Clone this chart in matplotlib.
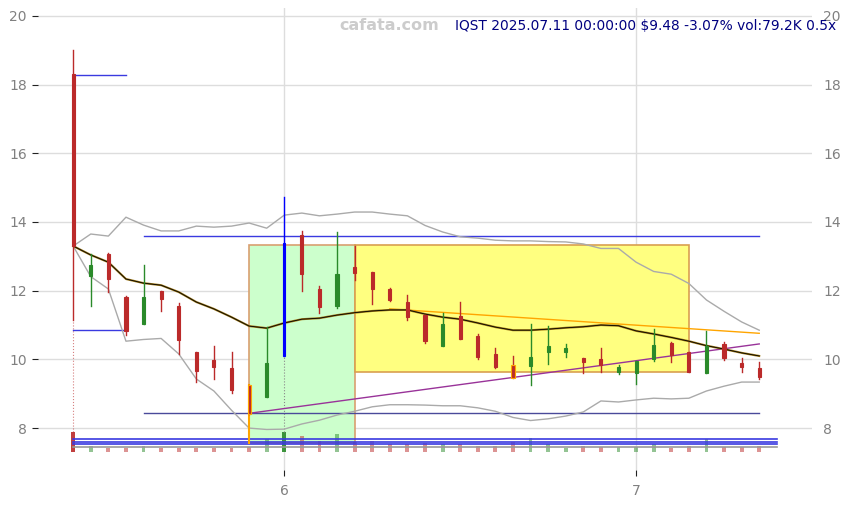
import matplotlib
matplotlib.use("Agg")
import matplotlib.pyplot as plt
from matplotlib.patches import Rectangle

# Kursdaten IQST (Tageskerzen, 14.05.2025 - 11.07.2025)
opens = [18.3, 12.43, 13.07, 11.82, 11.03, 11.99, 11.55, 10.21, 9.98, 9.75,
         9.25, 8.91, 10.1, 13.62, 12.06, 11.55, 12.69, 12.54, 12.05, 11.67,
         11.29, 10.39, 11.26, 10.68, 10.16, 9.83, 9.81, 10.22, 10.22, 10.04,
         10.01, 9.62, 9.59, 10.0, 10.48, 10.21, 9.59, 10.45, 9.89, 9.75]
highs = [19.0, 13.07, 13.1, 11.85, 12.75, 12.0, 11.64, 10.22, 10.39, 10.21,
         9.25, 10.93, 14.73, 13.75, 12.14, 13.71, 13.31, 12.54, 12.07, 11.87,
         11.3, 11.34, 11.68, 10.74, 10.34, 10.1, 11.03, 10.97, 10.45, 10.04,
         10.34, 9.83, 9.96, 10.88, 10.5, 10.22, 10.83, 10.5, 10.03, 9.92]
lows = [11.15, 11.55, 11.96, 10.71, 11.03, 11.41, 10.16, 9.34, 9.43, 9.02,
        8.41, 8.91, 10.1, 11.99, 11.36, 11.51, 12.31, 11.62, 11.7, 11.15,
        10.47, 10.39, 10.6, 10.01, 9.75, 9.45, 9.25, 9.86, 10.07, 9.59,
        9.63, 9.57, 9.28, 9.96, 9.93, 9.62, 9.59, 9.98, 9.64, 9.44]
closes = [13.3, 12.75, 12.34, 10.82, 11.82, 11.76, 10.56, 9.66, 9.78, 9.11,
          8.41, 9.90, 13.39, 12.49, 11.52, 12.49, 12.52, 12.06, 11.73, 11.23,
          10.53, 11.03, 10.6, 10.06, 9.79, 9.45, 10.07, 10.39, 10.34, 9.93,
          9.83, 9.79, 9.96, 10.42, 10.12, 9.62, 10.39, 10.04, 9.79, 9.48]
# Volumen in Tausend
volumen = [264, 79, 57, 57, 79, 57, 57, 57, 57, 57,
           70, 168, 264, 211, 145, 238, 132, 145, 102, 102,
           123, 102, 102, 79, 79, 128, 189, 110, 57, 79,
           66, 66, 66, 102, 57, 79, 168, 70, 70, 79.2]

# Gleitender Durchschnitt und Baender
ma = [13.3, 13.04, 12.83, 12.34, 12.22, 12.16, 11.96, 11.67, 11.47, 11.23,
      10.97, 10.91, 11.06, 11.17, 11.2, 11.29, 11.36, 11.41, 11.44, 11.44,
      11.32, 11.23, 11.17, 11.06, 10.94, 10.85, 10.85, 10.88, 10.92, 10.95,
      11.0, 10.98, 10.83, 10.74, 10.64, 10.53, 10.4, 10.3, 10.19, 10.1]
band_oben = [13.3, 13.65, 13.59, 14.14, 13.91, 13.74, 13.74, 13.88, 13.85, 13.88,
             13.97, 13.82, 14.2, 14.26, 14.18, 14.23, 14.29, 14.29, 14.23, 14.18,
             13.9, 13.71, 13.57, 13.53, 13.47, 13.45, 13.45, 13.43, 13.42, 13.36,
             13.23, 13.23, 12.83, 12.56, 12.48, 12.21, 11.73, 11.4, 11.09, 10.85]
band_unten = [13.3, 12.41, 12.05, 10.53, 10.58, 10.61, 10.16, 9.43, 9.08, 8.52,
              8.0, 7.96, 7.97, 8.12, 8.23, 8.38, 8.49, 8.62, 8.68, 8.68,
              8.67, 8.65, 8.65, 8.59, 8.49, 8.31, 8.22, 8.27, 8.35, 8.47,
              8.79, 8.76, 8.82, 8.87, 8.85, 8.87, 9.08, 9.22, 9.34, 9.34]

# Monatsticks (Juni, Juli)
tick_pos = [12, 32]
tick_labels = ["6", "7"]

# Volumen-Niveaus (Tausend)
vol_linien = [167.6, 128, 101.6]
vol_grau = 62

rot = '#bb2a2a'
gruen = '#2a8a2a'
blau = '#3a3ae0'

fig = plt.figure(figsize=(8.49, 5.05), dpi=100)
ax = fig.add_axes([38 / 849, 1 - 470 / 505, 774 / 849, 462 / 505])

n = len(closes)
x = list(range(n))

# Volumen unten einzeichnen
vol_basis = 7.30
vol_faktor = 0.00221
for i in x:
    farbe = rot if closes[i] < opens[i] else gruen
    alpha = 0.9 if volumen[i] > 250 else 0.5
    ax.bar(i, volumen[i] * vol_faktor, bottom=vol_basis, width=0.22,
           color=farbe, alpha=alpha, zorder=2)
for v in vol_linien:
    ax.plot([0, 40], [vol_basis + v * vol_faktor] * 2, color=blau, lw=1.2, zorder=3)
ax.plot([0, 40], [vol_basis + vol_grau * vol_faktor] * 2, color='#999999', lw=1.2, zorder=3)

# Rechtecke
ax.add_patch(Rectangle((10, 7.56), 6, 13.33 - 7.56, facecolor='#ccffcc',
                       edgecolor='#d9a070', lw=1.2, zorder=1))
ax.add_patch(Rectangle((16, 9.63), 19, 13.33 - 9.63, facecolor='#ffff80',
                       edgecolor='#d9a050', lw=1.2, zorder=1))
ax.plot([10, 10], [7.56, 9.25], color='orange', lw=1.5, zorder=4)

# horizontale Linien
ax.plot([0, 3], [18.27, 18.27], color=blau, lw=1, zorder=3)
ax.plot([0, 3], [10.85, 10.85], color=blau, lw=1, zorder=3)
ax.plot([4, 39], [13.59, 13.59], color=blau, lw=1, zorder=3)
ax.plot([4, 39], [8.43, 8.43], color='#4a4a9a', lw=1, zorder=3)

# Trendlinien
ax.plot([18, 39], [11.47, 10.76], color='orange', lw=1, zorder=4)
ax.plot([10, 39], [8.43, 10.45], color='#993399', lw=1, zorder=4)

# Baender und Durchschnitt
ax.plot(x, band_oben, color='#aaaaaa', lw=1, zorder=3)
ax.plot(x, band_unten, color='#aaaaaa', lw=1, zorder=3)
ax.plot(x, ma, color='#a07a18', lw=1.5, zorder=4)
ax.plot(x, ma, color='black', lw=0.6, zorder=5)

# gepunktete Linien unter Kerze 0 und 12
ax.plot([0, 0], [vol_basis + 264 * vol_faktor, lows[0]], color=rot, lw=0.8,
        ls=':', alpha=0.6, zorder=2)
ax.plot([12, 12], [vol_basis + 264 * vol_faktor, lows[12]], color='#888888', lw=0.8,
        ls=':', zorder=2)

# Kerzen
for i in x:
    if i == 12:
        farbe = 'blue'
    elif closes[i] < opens[i]:
        farbe = rot
    else:
        farbe = gruen
    ax.plot([i, i], [lows[i], highs[i]], color=farbe, lw=1, zorder=6)
    unten = min(opens[i], closes[i])
    hoehe = max(abs(closes[i] - opens[i]), 0.04)
    rand = 'orange' if i in (10, 25) else farbe
    ax.bar(i, hoehe, bottom=unten, width=0.18 if i != 12 else 0.12,
           color=farbe, edgecolor=rand, lw=0.8, zorder=7)

ax.set_xlim(-2, 42)
ax.set_ylim(6.78, 20.23)
ax.set_yticks([8, 10, 12, 14, 16, 18, 20])
ax.set_xticks(tick_pos)
ax.set_xticklabels(tick_labels)
ax.grid(True, color='#dddddd', lw=1, zorder=0)
ax.set_axisbelow(True)
for s in ax.spines.values():
    s.set_visible(False)
ax.tick_params(axis='y', right=True, labelright=True, length=4, pad=4,
               labelsize=10, labelcolor='#808080', color='#222222')
ax.tick_params(axis='x', length=4, pad=6, labelsize=10, labelcolor='#808080',
               color='#222222')
for t in ax.yaxis.get_major_ticks():
    t.tick2line.set_visible(False)

fig.text(389 / 849, 1 - 26 / 505, "cafata.com", ha='center', va='center',
         fontsize=11.5, fontweight='bold', color='#cccccc')
fig.text(836 / 849, 1 - 26 / 505, "IQST 2025.07.11 00:00:00 $9.48 -3.07% vol:79.2K 0.5x",
         ha='right', va='center', fontsize=9.9, color='#000080')

fig.savefig("out.png", dpi=100)
